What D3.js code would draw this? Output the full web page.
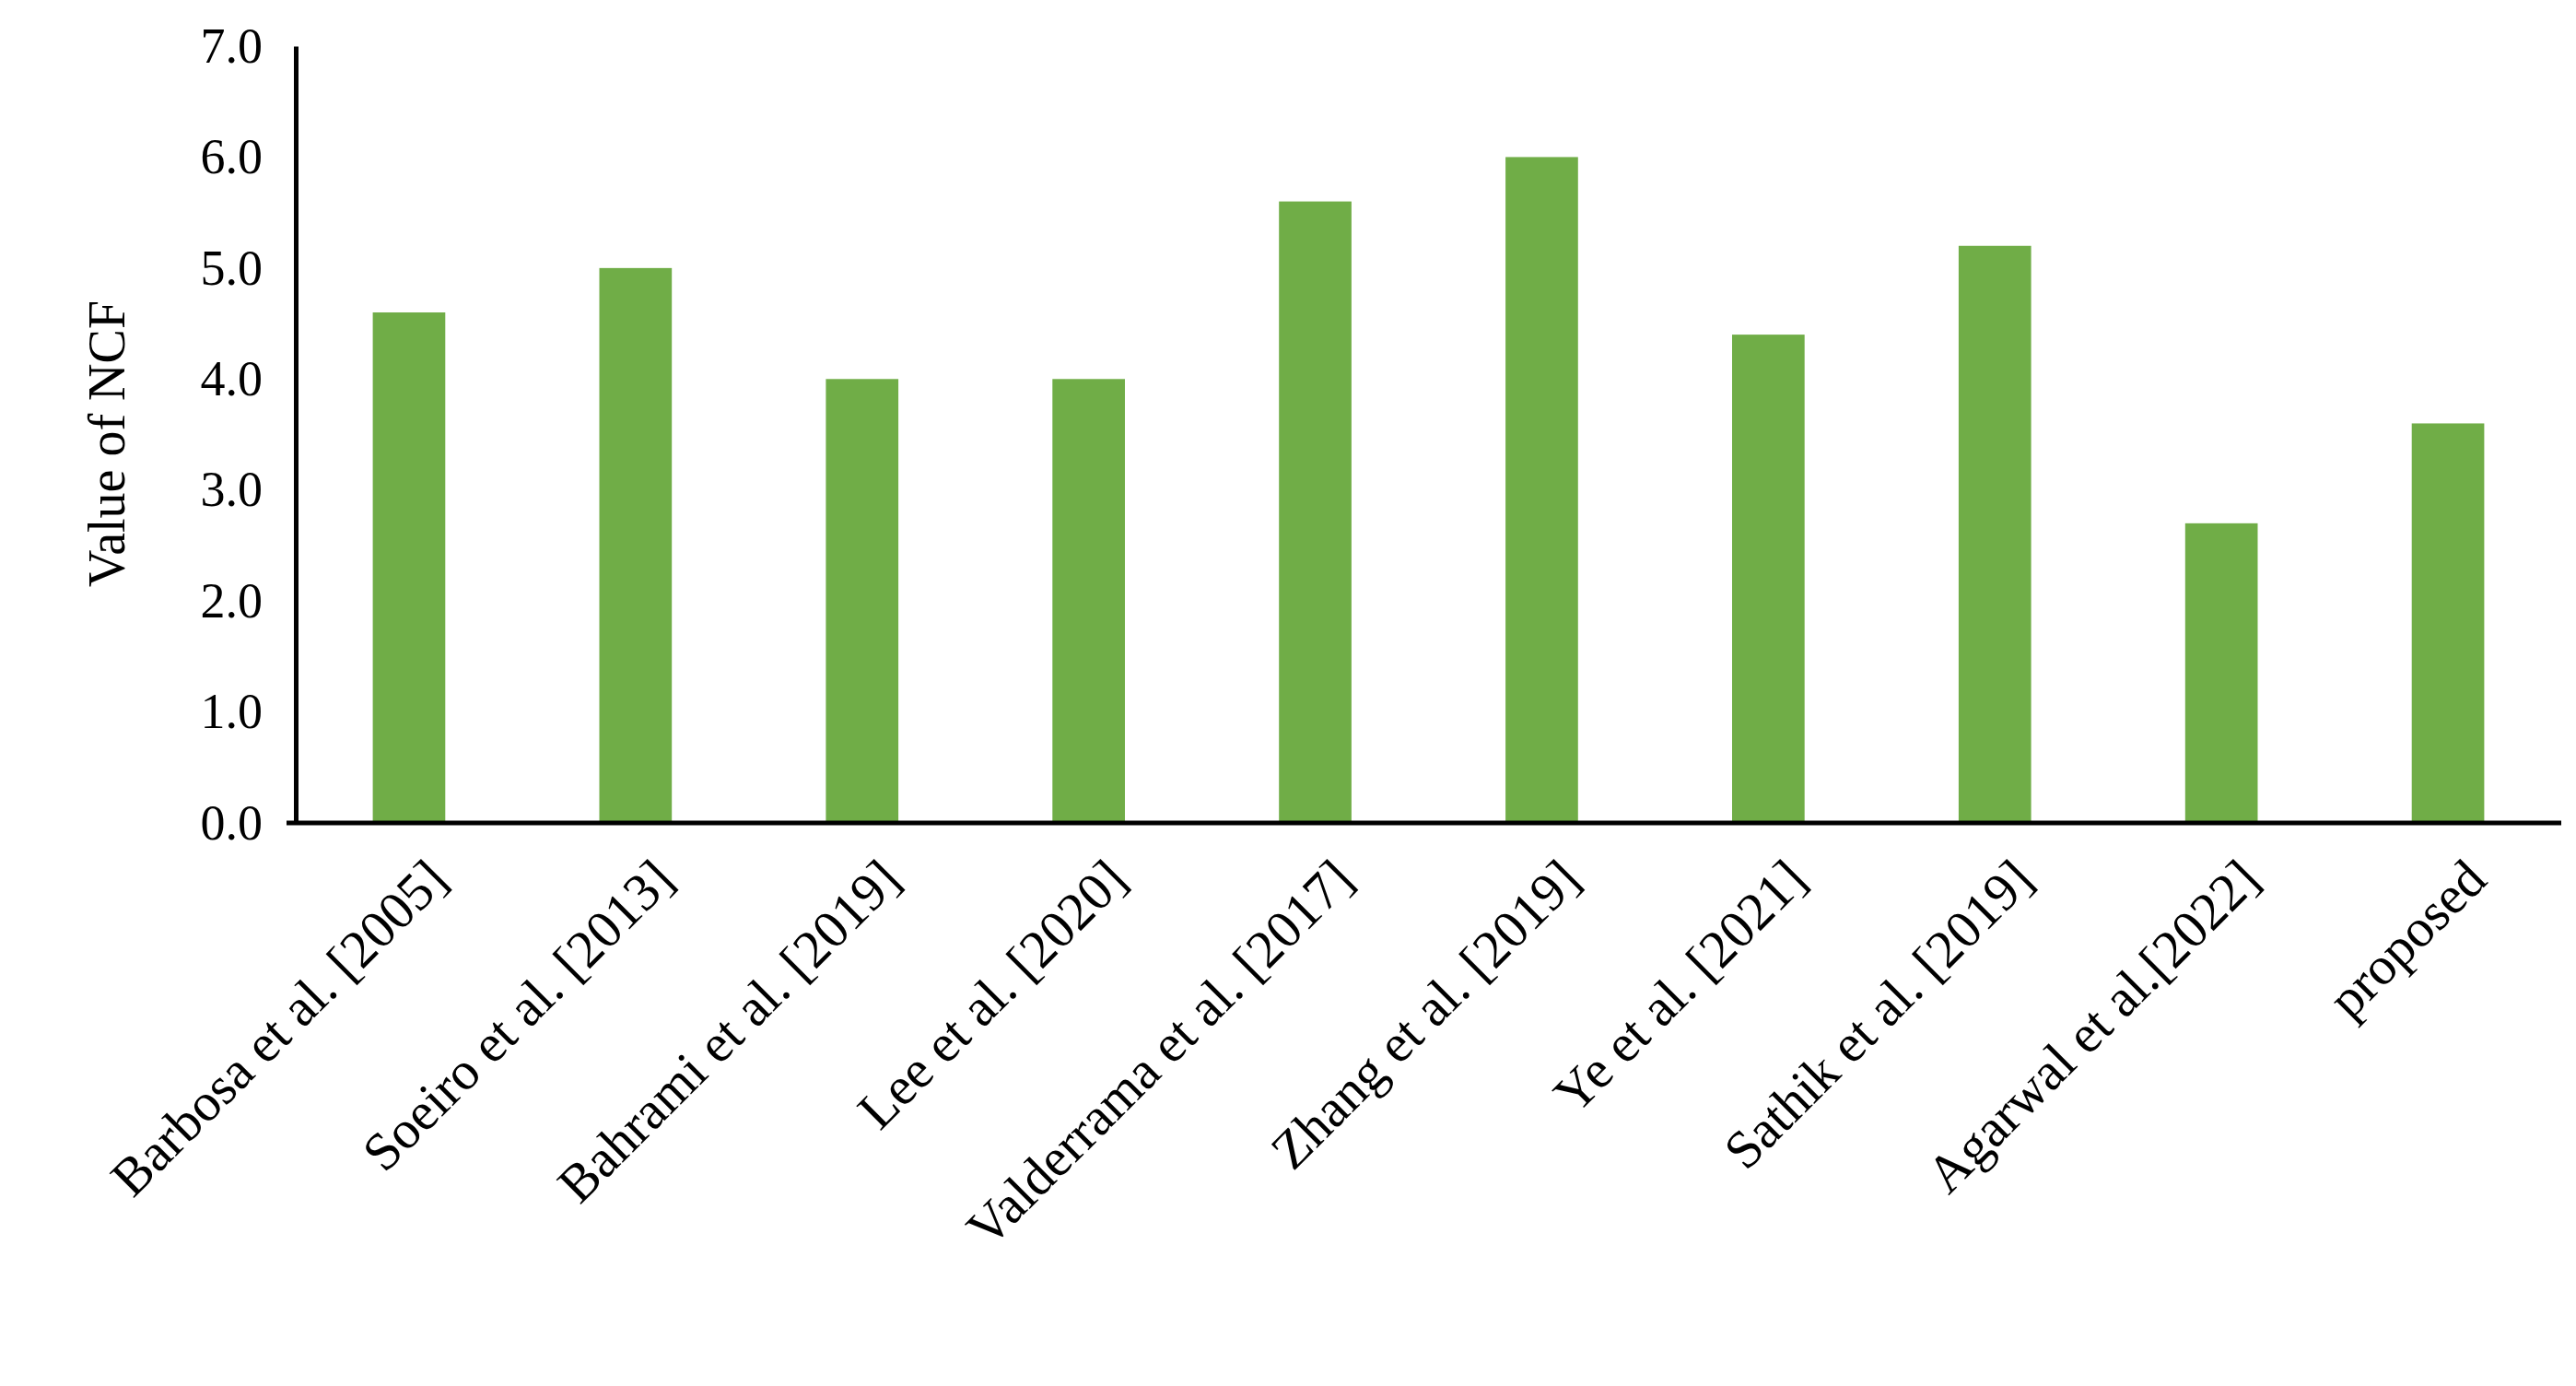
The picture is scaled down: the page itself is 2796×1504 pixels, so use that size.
<!DOCTYPE html>
<html><head><meta charset="utf-8">
<script src="https://cdn.jsdelivr.net/npm/d3@7"></script>
<style>body{margin:0;background:#fff}</style>
</head><body>
<svg id="chart" width="2796" height="1504"></svg>
<script>
const categories = ["Barbosa et al. [2005]", "Soeiro et al. [2013]", "Bahrami et al. [2019]", "Lee et al. [2020]",
  "Valderrama et al. [2017]", "Zhang et al. [2019]", "Ye et al. [2021]", "Sathik et al. [2019]",
  "Agarwal et al.[2022]", "proposed"];
const values = [4.6, 5.0, 4.0, 4.0, 5.6, 6.0, 4.4, 5.2, 2.7, 3.6];
const yTicks = [0, 1, 2, 3, 4, 5, 6, 7];

const svg = d3.select("#chart");
const mLeft = 321, mRight = 2780, mTop = 50, mBottom = 893;
const font = "'Liberation Serif', 'DejaVu Serif', serif";

const x = d3.scaleBand().domain(categories).range([mLeft, mRight]).paddingInner(0.68).paddingOuter(0.34);
const y = d3.scaleLinear().domain([0, 7]).range([mBottom, mTop]);

svg.selectAll("rect.bar").data(values).enter().append("rect")
  .attr("x", (d, i) => x(categories[i]))
  .attr("width", x.bandwidth())
  .attr("y", d => y(d))
  .attr("height", d => y(0) - y(d))
  .attr("fill", "#70ad47");

// y axis
const ya = svg.append("g").attr("transform", `translate(${mLeft},0)`)
  .call(d3.axisLeft(y).tickValues(yTicks).tickSize(0).tickPadding(36));
ya.select(".domain").attr("stroke", "#000").attr("stroke-width", 5);
ya.selectAll("text").attr("font-family", font).attr("font-size", 54).attr("fill", "#000");

// x axis
const xa = svg.append("g").attr("transform", `translate(0,${mBottom})`)
  .call(d3.axisBottom(x).tickSize(0));
xa.select(".domain").attr("d", `M${mLeft - 10},0H${mRight}`).attr("stroke", "#000").attr("stroke-width", 5);
xa.selectAll("text")
  .attr("font-family", font).attr("font-size", 58).attr("fill", "#000")
  .attr("text-anchor", "end")
  .attr("transform", "translate(30,50) rotate(-45)")
  .attr("dy", "0.35em").attr("y", 0);

svg.append("text")
  .attr("transform", `translate(135,${(mTop + mBottom) / 2 + 10}) rotate(-90)`)
  .attr("text-anchor", "middle")
  .attr("font-family", font).attr("font-size", 56)
  .text("Value of NCF");
</script>
</body></html>
